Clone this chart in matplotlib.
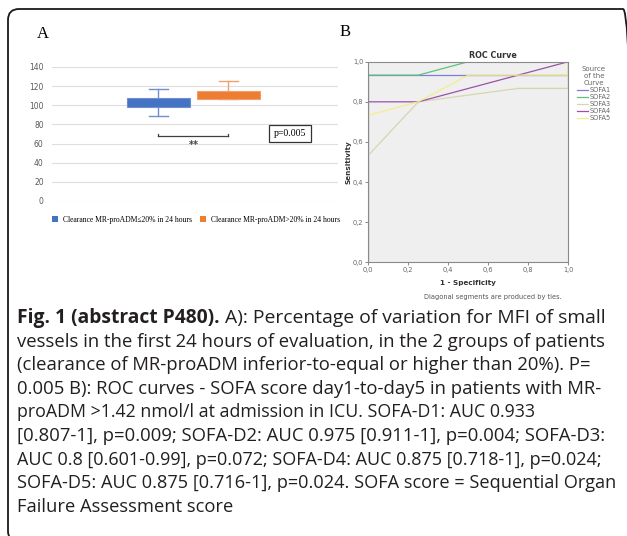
import matplotlib
matplotlib.use('Agg')
import matplotlib.pyplot as plt
from matplotlib.patches import FancyBboxPatch, Patch
from matplotlib.transforms import IdentityTransform

W, H = 627, 536

# panel A - variation of MFI (%), box summary per group
groups = ['Clearance MR-proADM≤20% in 24 hours', 'Clearance MR-proADM>20% in 24 hours']
q1 = [98.5, 106.5]
med = [103, 111]
q3 = [108, 115.3]
whis_lo = [88.8, 106.5]
whis_hi = [116.7, 125.7]
box_colors = ['#4472c4', '#ed7d31']
whisk_colors = ['#6f8fcf', '#f0a070']
p_label = 'p=0.005'
star_label = '**'

# panel B - ROC curves, SOFA day1..day5
roc_labels = ['SOFA1', 'SOFA2', 'SOFA3', 'SOFA4', 'SOFA5']
roc_fpr = [
    [0, 0, 1, 1],
    [0, 0, 0.25, 0.5, 1],
    [0, 0, 0.25, 0.75, 1, 1],
    [0, 0, 0.25, 1],
    [0, 0, 0.25, 0.5, 1, 1],
]
roc_tpr = [
    [0, 0.933, 0.933, 1],
    [0, 0.933, 0.933, 1, 1],
    [0, 0.533, 0.8, 0.867, 0.867, 1],
    [0, 0.8, 0.8, 1],
    [0, 0.733, 0.8, 0.933, 0.933, 1],
]
roc_colors = ['#7f7fd8', '#5fc27a', '#d8d5ae', '#9a52a8', '#f4ee88']
roc_ticks = [0, 0.2, 0.4, 0.6, 0.8, 1.0]

caption_bold = 'Fig. 1 (abstract P480).'
caption_lines = [
    ' A): Percentage of variation for MFI of small',
    'vessels in the first 24 hours of evaluation, in the 2 groups of patients',
    '(clearance of MR-proADM inferior-to-equal or higher than 20%). P=',
    '0.005 B): ROC curves - SOFA score day1-to-day5 in patients with MR-',
    'proADM >1.42 nmol/l at admission in ICU. SOFA-D1: AUC 0.933',
    '[0.807-1], p=0.009; SOFA-D2: AUC 0.975 [0.911-1], p=0.004; SOFA-D3:',
    'AUC 0.8 [0.601-0.99], p=0.072; SOFA-D4: AUC 0.875 [0.718-1], p=0.024;',
    'SOFA-D5: AUC 0.875 [0.716-1], p=0.024. SOFA score = Sequential Organ',
    'Failure Assessment score',
]
# right end (px) of each caption line in the reference
caption_ends = [606, 606, 591, 603, 536, 605, 605, 615, 233]

fig = plt.figure(figsize=(W / 100, H / 100), dpi=100)
fig.patch.set_facecolor('white')

# rounded frame around the whole figure
frame = FancyBboxPatch((8, -6), 626, H - 9 + 6, boxstyle='round,pad=0,rounding_size=11',
                       transform=IdentityTransform(), fc='none', ec='#1a1a1a', lw=1.3)
fig.patches.append(frame)

serif = ['Liberation Serif', 'DejaVu Serif']

# ---- panel A
fig.text(37 / W, 1 - 34 / H, 'A', fontsize=12, family=serif, va='center', ha='left')
axA = fig.add_axes([52 / W, 1 - 201 / H, 286 / W, 134 / H])
pos = [0.372, 0.617]
for i in range(len(groups)):
    st = dict(label=groups[i], q1=q1[i], med=med[i], q3=q3[i],
              whislo=whis_lo[i], whishi=whis_hi[i])
    axA.bxp([st], positions=[pos[i]], widths=0.22, patch_artist=True, showfliers=False,
            capwidths=0.065,
            boxprops=dict(facecolor=box_colors[i], edgecolor=whisk_colors[i], lw=0.8, zorder=3),
            medianprops=dict(color=box_colors[i], lw=0.5, zorder=4),
            whiskerprops=dict(color=whisk_colors[i], lw=1.0),
            capprops=dict(color=whisk_colors[i], lw=1.0))
axA.set_xlim(0, 1)
axA.set_ylim(0, 140)
axA.set_yticks(range(0, 141, 20))
axA.set_xticks([])
axA.yaxis.grid(True, color='#dedede', lw=0.8)
axA.set_axisbelow(True)
for s in axA.spines.values():
    s.set_visible(False)
axA.tick_params(axis='y', length=0, labelsize=5.5, labelcolor='#595959', pad=6)

# significance bracket between groups
axA.plot([pos[0], pos[1]], [68, 68], color='#404040', lw=0.9)
axA.plot([pos[0], pos[0]], [68, 70], color='#404040', lw=0.9)
axA.plot([pos[1], pos[1]], [68, 70], color='#404040', lw=0.9)
axA.text((pos[0] + pos[1]) / 2, 58, star_label, ha='center', va='center', fontsize=7,
         color='#404040', fontweight='bold')
axA.text(0.832, 70.5, p_label, ha='center', va='center', fontsize=7, family=serif,
         bbox=dict(boxstyle='square,pad=0.45', fc='white', ec='#333333', lw=0.9))

handlesA = [Patch(facecolor=c, edgecolor='none') for c in box_colors]
fig.legend(handlesA, groups, loc='center left', bbox_to_anchor=(52 / W, 1 - 220 / H),
           ncol=2, frameon=False, prop=dict(family=serif, size=5.5),
           handlelength=0.85, handleheight=0.85, handletextpad=0.6, columnspacing=1.0,
           borderpad=0, borderaxespad=0)

# ---- panel B
fig.text(340 / W, 1 - 32 / H, 'B', fontsize=12, family=serif, va='center', ha='left')
axB = fig.add_axes([368.3 / W, 1 - 262.3 / H, 200 / W, 200.6 / H])
axB.set_facecolor('#efefef')
for i in range(len(roc_labels)):
    axB.plot(roc_fpr[i], roc_tpr[i], color=roc_colors[i], lw=0.9, label=roc_labels[i])
axB.set_xlim(0, 1)
axB.set_ylim(0, 1)
axB.set_xticks(roc_ticks)
axB.set_yticks(roc_ticks)
tick_txt = ['{:.1f}'.format(t).replace('.', ',') for t in roc_ticks]
axB.set_xticklabels(tick_txt)
axB.set_yticklabels(tick_txt)
axB.tick_params(length=2, width=0.6, color='#777777', labelsize=4.8, labelcolor='#666666', pad=1.5)
for s in axB.spines.values():
    s.set_color('#8a8a8a')
    s.set_linewidth(0.8)

fig.text(493 / W, 1 - 55 / H, 'ROC Curve', ha='center', va='center', fontsize=5.8,
         fontweight='bold', color='#333333')
fig.text(468 / W, 1 - 283 / H, '1 - Specificity', ha='center', va='center', fontsize=5.2,
         fontweight='bold', color='#333333')
fig.text(348 / W, 1 - 162 / H, 'Sensitivity', ha='center', va='center', fontsize=5.2,
         fontweight='bold', color='#333333', rotation=90)
fig.text(493 / W, 1 - 297 / H, 'Diagonal segments are produced by ties.', ha='center',
         va='center', fontsize=4.8, color='#555555')

legB = axB.legend(title='Source\nof the\nCurve', loc='upper left',
                  bbox_to_anchor=(577 / W, 1 - 66 / H), bbox_transform=fig.transFigure,
                  frameon=False, fontsize=4.8, title_fontsize=5, handlelength=1.6,
                  handletextpad=0.3, labelspacing=0.15, borderpad=0, borderaxespad=0)
for t in legB.get_texts():
    t.set_color('#666666')
legB.get_title().set_color('#666666')
legB.get_title().set_multialignment('center')

# ---- caption, each line sized to span the same width as in the reference
cap_font = ['Open Sans', 'DejaVu Sans']
x0 = 17
y0 = 318
step = 23.6
fig.canvas.draw()
r = fig.canvas.get_renderer()


def line_width(i, size):
    parts = []
    if i == 0:
        parts.append(fig.text(0, 0, caption_bold, fontsize=size, family=cap_font, fontweight='bold'))
    parts.append(fig.text(0, 0, caption_lines[i], fontsize=size, family=cap_font))
    w = sum(p.get_window_extent(r).width for p in parts)
    for p in parts:
        p.remove()
    return w


sizes = []
for i in range(len(caption_lines)):
    sizes.append(10 * (caption_ends[i] - x0) / line_width(i, 10))
base = sorted(sizes[:-1])[len(sizes[:-1]) // 2]
sizes = [min(max(s, base * 0.96), base * 1.04) for s in sizes]

for i, line in enumerate(caption_lines):
    y = 1 - (y0 + i * step) / H
    x = x0
    if i == 0:
        tb = fig.text(x / W, y, caption_bold, fontsize=sizes[0], family=cap_font,
                      fontweight='bold', va='center', ha='left', color='#231f20')
        x += tb.get_window_extent(r).width
    fig.text(x / W, y, line, fontsize=sizes[i], family=cap_font,
             va='center', ha='left', color='#231f20')

fig.savefig('out.png', dpi=100)
